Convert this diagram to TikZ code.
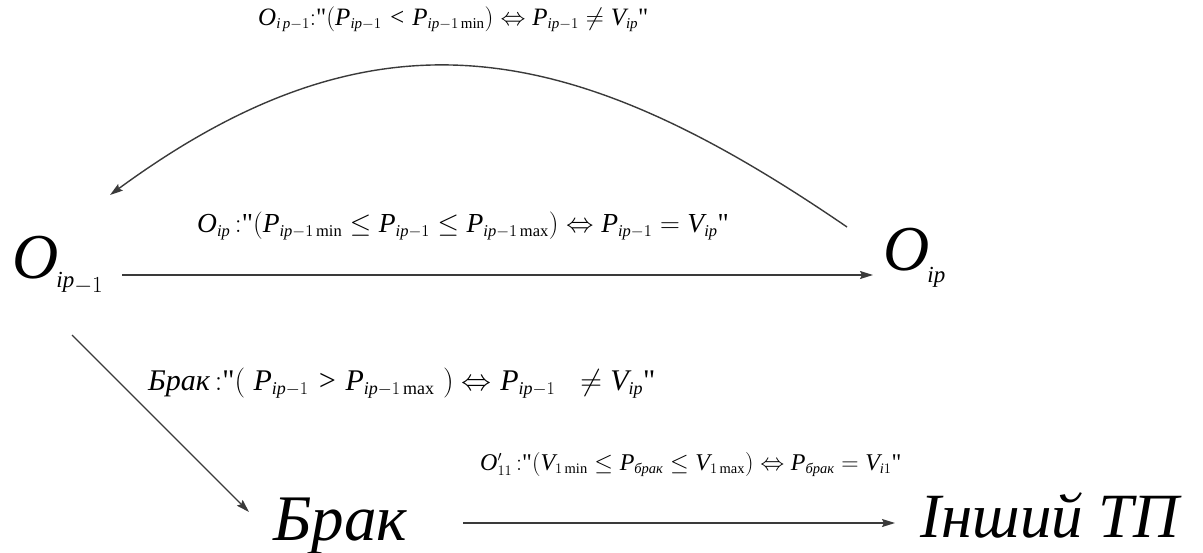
\RequirePackage{fix-cm}
\documentclass[tikz,border=0pt]{standalone}
\usepackage{amsmath}
\usepackage{fontspec}
\setmainfont{Liberation Serif}
\DeclareSymbolFont{letters}{TU}{\rmdefault}{m}{it}
\DeclareMathSizes{24}{24}{14.5}{10.5}
\DeclareMathSizes{25}{25}{15}{11}
\DeclareMathSizes{27.5}{27.5}{16.5}{12}
\DeclareMathSizes{30}{30}{18}{13}
\newfontfamily\qfont{Liberation Serif}
\usetikzlibrary{arrows.meta}
\definecolor{linegray}{HTML}{3A3A3A}
\tikzset{
  arr/.style={draw=linegray, line width=1.4pt, -{Stealth[length=13pt,width=8pt,inset=2pt]}},
  lbl/.style={anchor=base west, inner sep=0pt},
  big/.style={anchor=base west, inner sep=0pt},
}
\newcommand{\qq}{\text{\qfont\upshape "}}
\newcommand{\br}{\text{\itshape брак}}
\newcommand{\cln}{{:}}
\begin{document}
\begin{tikzpicture}[x=1pt,y=-1pt]
\useasboundingbox (0,0) rectangle (1203,552);
% main nodes
\node[big] (A) at (12,278) {\fontsize{64}{66}\selectfont$O$\kern-2pt\raisebox{-9pt}{\fontsize{23}{25}\selectfont$ip$\raisebox{-5pt}{$-1$}}};
\node[big] (B) at (883,270) {\fontsize{64}{66}\selectfont$O$\kern-2pt\raisebox{-12pt}{\fontsize{23}{25}\selectfont$ip$}};
\node[big] (C) at (273,540) {\fontsize{65}{67}\selectfont\itshape Брак};
\node[big] (D) at (920,537) {\fontsize{63}{65}\selectfont\itshape Інший ТП};
% labels
\node[lbl, font=\fontsize{25}{28}\selectfont] (L1) at (258,25) {$O_{i\,p-1}\cln\qq(P_{ip-1} < P_{ip-1\min}) \Leftrightarrow P_{ip-1} \neq V_{ip}\qq$};
\node[lbl, font=\fontsize{27.5}{30}\selectfont] (L2) at (197,232) {$O_{ip}\,\cln\qq(P_{ip-1\min} \le P_{ip-1} \le P_{ip-1\max}) \Leftrightarrow P_{ip-1} = V_{ip}\qq$};
\node[lbl, font=\fontsize{30}{32}\selectfont] (L3) at (148,390) {$\text{\itshape Брак}\,\cln\qq(\;P_{ip-1} > P_{ip-1\max}\;) \Leftrightarrow P_{ip-1} \;\;\neq V_{ip}\qq$};
\node[lbl, font=\fontsize{24}{26}\selectfont] (L4) at (480,470) {$O'_{11}\,\cln\qq(V_{1\min} \le P_{\br} \le V_{1\max}) \Leftrightarrow P_{\br} = V_{i1}\qq$};
% connectors
\draw[arr] ([xshift=110pt,yshift=3pt]A.base west) -- ([xshift=-10pt,yshift=-5pt]B.base west);
\draw[arr] ([xshift=-36pt,yshift=43pt]B.base west) .. controls +(-270,-185) and +(270,-198) .. ([xshift=98pt,yshift=83pt]A.base west);
\draw[arr] ([xshift=60pt,yshift=-57pt]A.base west) -- ([xshift=-24pt,yshift=28pt]C.base west);
\draw[arr] ([xshift=190pt,yshift=17pt]C.base west) -- ([xshift=-25pt,yshift=14pt]D.base west);
\end{tikzpicture}
\end{document}
